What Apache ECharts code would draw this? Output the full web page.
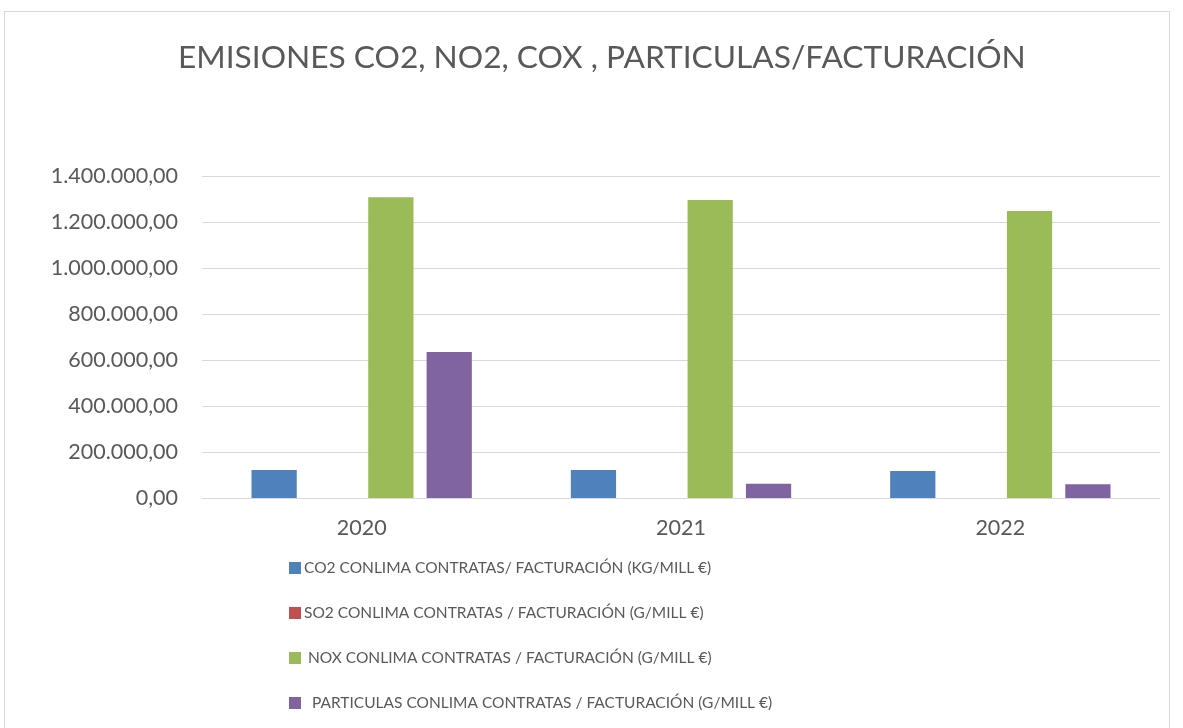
<!DOCTYPE html>
<html>
<head>
<meta charset="utf-8">
<script src="https://cdn.jsdelivr.net/npm/echarts@6/dist/echarts.min.js"></script>
<style>
html, body { margin: 0; padding: 0; background: #fff; }
#frame { position: absolute; left: 4px; top: 11px; width: 1166px; height: 730px; border: 1px solid #d9d9d9; box-sizing: border-box; }
#main { position: absolute; left: 0; top: 0; width: 1183px; height: 728px; }
</style>
</head>
<body>
<div id="frame"></div>
<div id="main"></div>
<script>
var years = ['2020', '2021', '2022'];
var co2 = [122000, 122000, 117000];
var so2 = [150, 140, 130];
var nox = [1308000, 1296000, 1248000];
var particulas = [635000, 62000, 60000];
var seriesNames = [
    'CO2 CONLIMA CONTRATAS/ FACTURACIÓN (KG/MILL €)',
    'SO2 CONLIMA CONTRATAS / FACTURACIÓN (G/MILL €)',
    ' NOX CONLIMA CONTRATAS / FACTURACIÓN (G/MILL €)',
    '  PARTICULAS CONLIMA CONTRATAS / FACTURACIÓN (G/MILL €)'
];
var colors = ['#4F81BD', '#C0504D', '#9BBB59', '#8064A2'];

var font = 'Lato';

function fmt(v) {
    var parts = v.toFixed(2).split('.');
    return parts[0].replace(/\B(?=(\d{3})+(?!\d))/g, '.') + ',' + parts[1];
}

var myChart = echarts.init(document.getElementById('main'));
var values = [co2, so2, nox, particulas];

option = {
    color: colors,
    textStyle: { fontFamily: font },
    title: {
        text: 'EMISIONES CO2, NO2, COX , PARTICULAS/FACTURACIÓN',
        left: 173,
        top: 37,
        textStyle: { fontFamily: font, fontSize: 31.7, fontWeight: 'normal', color: '#595959' }
    },
    legend: {
        orient: 'vertical',
        left: 284,
        top: 555,
        itemWidth: 12,
        itemHeight: 12,
        itemGap: 29,
        icon: 'rect',
        textStyle: { fontFamily: font, fontSize: 15.5, color: '#595959', padding: [0, 0, 0, -2] },
        data: seriesNames
    },
    grid: { left: 202, right: 23, top: 176, bottom: 230 },
    xAxis: {
        type: 'category',
        data: years,
        axisLine: { lineStyle: { color: '#d9d9d9', width: 1 } },
        axisTick: { show: false },
        axisLabel: { fontFamily: font, fontSize: 21.5, color: '#595959', margin: 19 }
    },
    yAxis: {
        type: 'value',
        min: 0,
        max: 1400000,
        interval: 200000,
        axisLine: { show: false },
        axisTick: { show: false },
        splitLine: { lineStyle: { color: '#d9d9d9', width: 1 } },
        axisLabel: { fontFamily: font, fontSize: 21.5, color: '#595959', margin: 24, formatter: fmt }
    },
    series: seriesNames.map(function (n, i) {
        return {
            name: n,
            type: 'bar',
            data: values[i],
            barGap: '29%',
            barCategoryGap: '31%',
            itemStyle: { color: colors[i] }
        };
    })
};

myChart.setOption(option);
</script>
</body>
</html>
